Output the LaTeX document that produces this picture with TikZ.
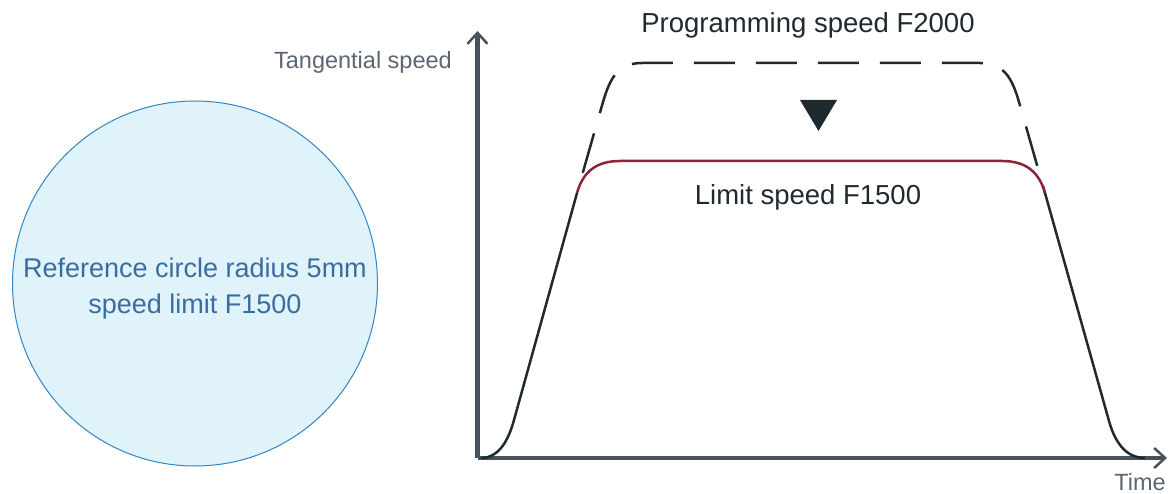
\documentclass[tikz,border=0pt]{standalone}
\usepackage{fontspec}
\setmainfont{Liberation Sans}
\usepackage{xcolor}
\usetikzlibrary{arrows.meta}

\definecolor{axisgray}{HTML}{46535C}
\definecolor{labelgray}{HTML}{5B6670}
\definecolor{curvedark}{HTML}{1F2A30}
\definecolor{limitred}{HTML}{8E2236}
\definecolor{circlefill}{HTML}{E0F2FA}
\definecolor{circleline}{HTML}{2F86C8}
\definecolor{circletext}{HTML}{3A6D9F}

\begin{document}
\begin{tikzpicture}[x=1pt, y=-1pt,
	axis/.style={line width=4.5pt, color=axisgray, -{Straight Barb[length=11pt, width=20pt, line width=2.5pt]}},
	curve/.style={line width=2.5pt, color=curvedark},
	biglabel/.style={font=\fontsize{27.5}{33}\selectfont, text=curvedark, inner sep=0pt},
	axislabel/.style={font=\fontsize{23.5}{28}\selectfont, text=labelgray, inner sep=0pt}]
	\useasboundingbox (0,0) rectangle (1172,494);

	% Reference circle
	\node[circle, draw=circleline, fill=circlefill, line width=1pt, minimum size=365pt] (ref) at (195,283.5) {};
	\node[align=center, text=circletext, font=\fontsize{27}{36}\selectfont] (reftext) at (195,289)
		{Reference circle radius 5mm\\speed limit F1500};

	% Axes
	\coordinate (O) at (477.5,458);
	\coordinate (ytop) at (477.5,31);
	\coordinate (xend) at (1167,458);
	\draw[axis] (O) -- (ytop);
	\draw[axis] (O) -- (xend);
	\node[axislabel, anchor=base east] (vlabel) at (452,69) {Tangential speed};
	\node[axislabel, anchor=base east] (tlabel) at (1166,490) {Time};

	% Programmed profile, dashed
	\draw[curve, dash pattern=on 41pt off 21pt, dash phase=41pt]
		(577,193) -- (603,102) .. controls (610,78) and (618,63) .. (642,63)
		-- (980,63) .. controls (1004,63) and (1012,78) .. (1019,102) -- (1045,193);

	% Limited profile
	\draw[curve] (481,458) .. controls (500,458) and (509,438) .. (514,420) -- (577,193);
	\draw[line width=2.5pt, color=limitred] (577,193) .. controls (583,172) and (596,161) .. (620,161)
		-- (1002,161) .. controls (1026,161) and (1039,172) .. (1045,193);
	\draw[curve] (1045,193) -- (1109,421) .. controls (1114,439) and (1124,458) .. (1145,458);

	% Reduction marker
	\fill[curvedark] (800,100) -- (837,100) -- (818.5,131) -- cycle;

	\node[biglabel, anchor=base] (prog) at (808,33) {Programming speed F2000};
	\node[biglabel, anchor=base] (limit) at (808,205) {Limit speed F1500};
\end{tikzpicture}
\end{document}
